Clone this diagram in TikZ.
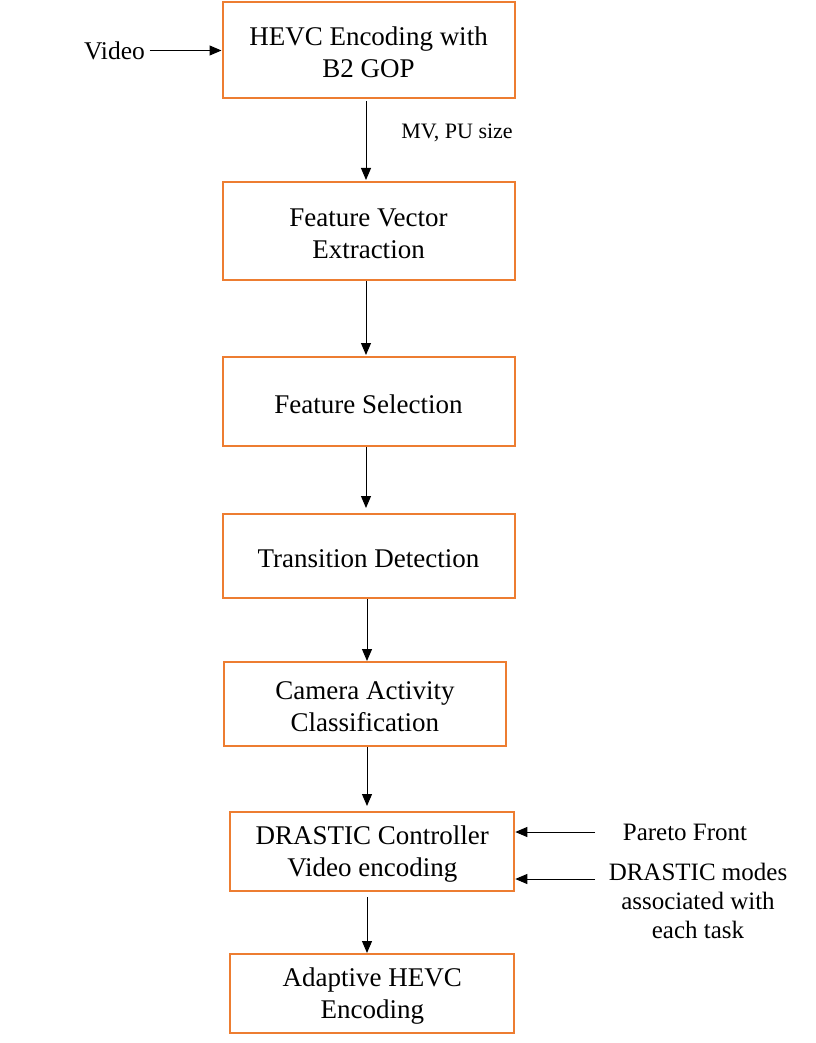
\documentclass[tikz,border=0pt]{standalone}
\usepackage{fontspec}
\setmainfont{Liberation Serif}
\usetikzlibrary{arrows.meta}
\definecolor{boxorange}{HTML}{ED7D31}
\newcommand{\bxstrut}{\rule{0pt}{23.5pt}}
\begin{document}
\begin{tikzpicture}[x=1pt,y=-1pt,
  box/.style={draw=boxorange, line width=2pt, inner sep=0pt, align=center,
    font=\fontsize{27}{32}\selectfont},
  arr/.style={draw=black, line width=1pt, -{Triangle[length=12pt,width=10pt]}},
  lbl/.style={inner sep=0pt, align=center, font=\fontsize{25}{29}\selectfont}]
\useasboundingbox (0,0) rectangle (815,1043);

\node[box, minimum width=292pt, minimum height=96pt] (b1) at (368.5,50)
  {\bxstrut HEVC Encoding with\\B2 GOP};
\node[box, minimum width=292pt, minimum height=98pt] (b2) at (368.5,231)
  {\bxstrut Feature Vector\\Extraction};
\node[box, minimum width=292pt, minimum height=89pt] (b3) at (368.5,401.5)
  {\bxstrut Feature Selection};
\node[box, minimum width=292pt, minimum height=84pt] (b4) at (368.5,556)
  {\bxstrut Transition Detection};
\node[box, minimum width=282.3pt, minimum height=84pt] (b5) at (364.9,704)
  {\bxstrut Camera Activity\\Classification};
\node[box, minimum width=284pt, minimum height=79pt] (b6) at (372.3,851.5)
  {\bxstrut DRASTIC Controller\\Video encoding};
\node[box, minimum width=284pt, minimum height=79pt] (b7) at (372.3,993.5)
  {\bxstrut Adaptive HEVC\\Encoding};

\node[inner sep=0pt, font=\fontsize{25.5}{30}\selectfont] (vid) at (114.5,50.5) {Video};
\node[inner sep=0pt, font=\fontsize{22}{26}\selectfont] (mv) at (457,132.5) {MV, PU size};
\node[lbl] (pf) at (685,832.5) {Pareto Front};
\node[lbl] (dm) at (698,901) {DRASTIC modes\\associated with\\each task};

\coordinate (ax) at (366,0);
\coordinate (ay) at (367,0);
\coordinate (c1) at (595,832);
\coordinate (c2) at (595,879);

\draw[arr, shorten <=4.5pt] (vid.east) -- (vid.east -| b1.west);
\draw[arr, shorten <=2.5pt, shorten >=1pt] (b1.south -| ax) -- (b2.north -| ax);
\draw[arr, shorten >=1pt] (b2.south -| ax) -- (b3.north -| ax);
\draw[arr, shorten >=5pt] (b3.south -| ax) -- (b4.north -| ax);
\draw[arr] (b4.south -| ay) -- (b5.north -| ay);
\draw[arr, shorten >=5pt] (b5.south -| ay) -- (b6.north -| ay);
\draw[arr, shorten <=5pt] (b6.south -| ay) -- (b7.north -| ay);
\draw[arr] (c1) -- (c1 -| b6.east);
\draw[arr] (c2) -- (c2 -| b6.east);
\end{tikzpicture}
\end{document}
